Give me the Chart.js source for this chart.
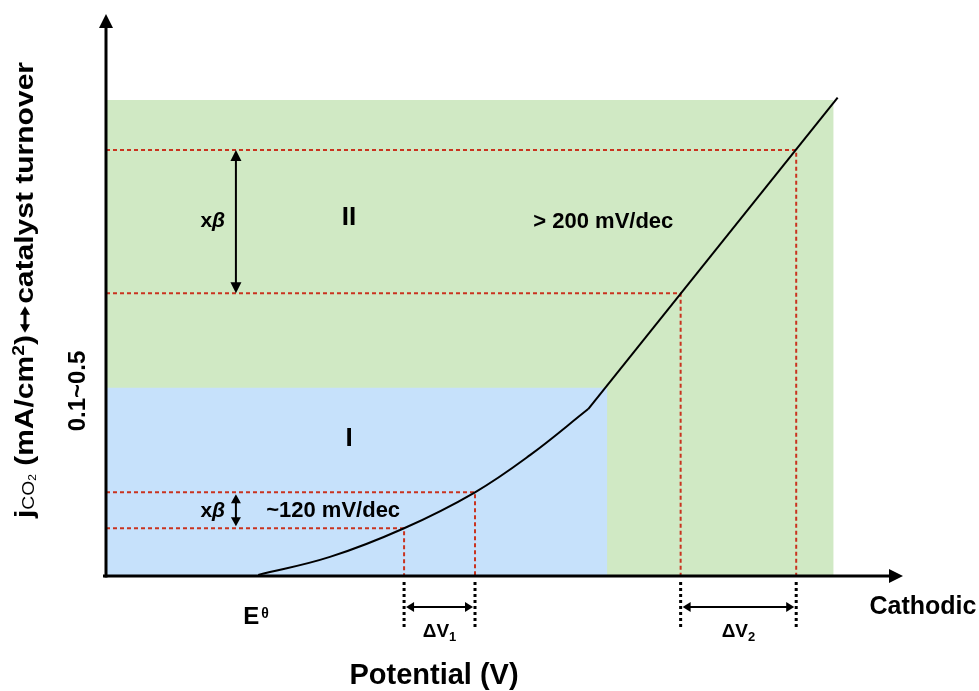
<!DOCTYPE html>
<html>
<head>
<meta charset="utf-8">
<script src="https://cdn.jsdelivr.net/npm/chart.js@4.4.1/dist/chart.umd.min.js"></script>
<style>
  html, body { margin: 0; padding: 0; background: #ffffff; }
  canvas { display: block; }
</style>
</head>
<body>
<canvas id="chart" width="979" height="691"></canvas>
<script>
// Potential runs left -> cathodic, current density bottom -> top (arbitrary schematic units)
const kineticPotential  = [19.1, 28.1, 37.4, 46.3, 53.2, 60.5];
const kineticCurrent    = [0.2, 3.4, 8.5, 14.9, 21.5, 29.7];
const turnoverPotential = [60.5, 91.8];
const turnoverCurrent   = [29.7, 85.1];

// Regime boxes: I (kinetic) and II (turnover-limited)
const regionNames  = ['I', 'II'];
const regionEdgeV  = [62.9, 91.3];
const regionEdgeJ  = [33.5, 84.7];
const regionColors = ['#c6e1fb', '#d0e9c4'];

// Read-out points: two current steps (xβ) in each regime and their potentials
const readoutV = [37.4, 46.3, 72.1, 86.6];
const readoutJ = [8.5, 14.9, 50.3, 75.8];

const slopeLabels = ['~120 mV/dec', '> 200 mV/dec'];
const deltaSubs   = ['1', '2'];
const stepLabel   = 'x';
const stepSymbol  = 'β';
const xAxisLabel  = 'Potential (V)';
const xEndLabel   = 'Cathodic';
const eqLabel     = 'E';
const eqSup       = 'θ';
const rangeLabel  = '0.1~0.5';

const FONT = '"Liberation Sans", Arial, Helvetica, sans-serif';
const RED = '#c9331f';

const pts = (xs, ys) => xs.map((x, i) => ({ x, y: ys[i] }));

const datasets = [];
// Curve: Tafel-like kinetic part, then straight turnover-limited part
datasets.push({
  data: pts(kineticPotential, kineticCurrent),
  borderColor: '#000', borderWidth: 2, pointRadius: 0,
  tension: 0.4, fill: false, order: 0
});
datasets.push({
  data: pts(turnoverPotential, turnoverCurrent),
  borderColor: '#000', borderWidth: 2, pointRadius: 0,
  tension: 0, fill: false, order: 0
});
// Red dashed guide lines from the axis to the curve and down to the potential axis
readoutV.forEach((v, i) => {
  datasets.push({
    data: [{ x: 0, y: readoutJ[i] }, { x: v, y: readoutJ[i] }, { x: v, y: 0 }],
    borderColor: RED, borderWidth: 2, borderDash: [4, 3], pointRadius: 0,
    tension: 0, fill: false, order: 1
  });
});
// Shaded regime boxes
regionNames.forEach((name, i) => {
  datasets.push({
    data: [{ x: 0, y: regionEdgeJ[i] }, { x: regionEdgeV[i], y: regionEdgeJ[i] }],
    borderColor: 'rgba(0,0,0,0)', borderWidth: 0, pointRadius: 0,
    backgroundColor: regionColors[i], fill: 'origin', tension: 0, order: 2 + i
  });
});

function head(ctx, x, y, dx, dy, len, half) {
  ctx.beginPath();
  ctx.moveTo(x, y);
  ctx.lineTo(x - dx * len - dy * half, y - dy * len + dx * half);
  ctx.lineTo(x - dx * len + dy * half, y - dy * len - dx * half);
  ctx.closePath();
  ctx.fill();
}

function doubleArrow(ctx, x1, y1, x2, y2, len, half, width) {
  const L = Math.hypot(x2 - x1, y2 - y1);
  const dx = (x2 - x1) / L, dy = (y2 - y1) / L;
  ctx.lineWidth = width;
  ctx.beginPath();
  ctx.moveTo(x1 + dx * (len - 1), y1 + dy * (len - 1));
  ctx.lineTo(x2 - dx * (len - 1), y2 - dy * (len - 1));
  ctx.stroke();
  head(ctx, x2, y2, dx, dy, len, half);
  head(ctx, x1, y1, -dx, -dy, len, half);
}

function label(ctx, str, x, y, font, align) {
  ctx.font = font;
  ctx.textAlign = align || 'center';
  ctx.textBaseline = 'middle';
  ctx.fillText(str, x, y);
}

// Draws a sequence of styled runs along one baseline; returns total width.
// A run with `arrow` draws a bold two-headed arrow of the given width instead of text.
function runs(ctx, list, x, y, draw) {
  let cx = x;
  ctx.textAlign = 'left';
  ctx.textBaseline = 'alphabetic';
  list.forEach(r => {
    if (r.arrow) {
      if (draw) doubleArrow(ctx, cx + 2, y - 8, cx + r.arrow - 2, y - 8, 7, 5, 3);
      cx += r.arrow;
      return;
    }
    ctx.font = r.font;
    if (draw) ctx.fillText(r.t, cx, y + (r.dy || 0));
    cx += ctx.measureText(r.t).width;
  });
  return cx - x;
}

const schematic = {
  id: 'schematic',
  afterDatasetsDraw(chart) {
    const ctx = chart.ctx;
    const xs = chart.scales.x, ys = chart.scales.y;
    const px = v => xs.getPixelForValue(v);
    const py = v => ys.getPixelForValue(v);
    const area = chart.chartArea;
    const x0 = px(0), y0 = py(0);

    ctx.save();
    ctx.fillStyle = '#000';
    ctx.strokeStyle = '#000';

    // Dotted extension lines below the potential axis
    ctx.lineWidth = 3;
    ctx.setLineDash([3, 3]);
    readoutV.forEach(v => {
      ctx.beginPath();
      ctx.moveTo(px(v), y0 + 6);
      ctx.lineTo(px(v), y0 + 53);
      ctx.stroke();
    });
    ctx.setLineDash([]);

    // ΔV arrows and labels
    [[0, 1], [2, 3]].forEach((pair, k) => {
      const a = px(readoutV[pair[0]]) + 2, b = px(readoutV[pair[1]]) - 2;
      doubleArrow(ctx, a, y0 + 31, b, y0 + 31, 8, 5, 2);
      const cx = (px(readoutV[pair[0]]) + px(readoutV[pair[1]])) / 2;
      const list = [
        { t: 'ΔV', font: 'bold 19px ' + FONT },
        { t: deltaSubs[k], font: 'bold 13px ' + FONT, dy: 4 }
      ];
      const w = runs(ctx, list, 0, 0, false);
      runs(ctx, list, cx - w / 2, y0 + 61, true);
    });

    // xβ arrows between the dashed levels
    const ax = px(16.3);
    doubleArrow(ctx, ax, py(readoutJ[3]), ax, py(readoutJ[2]), 11, 5.5, 2);
    doubleArrow(ctx, ax, py(readoutJ[1]) + 2, ax, py(readoutJ[0]) - 2, 9, 5, 2);
    [readoutJ[2] + (readoutJ[3] - readoutJ[2]) / 2 + 0.3, (readoutJ[0] + readoutJ[1]) / 2].forEach(j => {
      const list = [
        { t: stepLabel, font: 'bold 21px ' + FONT },
        { t: stepSymbol, font: 'italic bold 21px ' + FONT }
      ];
      const w = runs(ctx, list, 0, 0, false);
      runs(ctx, list, px(13.4) - w / 2, py(j) + 7, true);
    });

    // Regime names and slopes
    label(ctx, regionNames[1], px(30.5), py(63.7), 'bold 26px ' + FONT);
    label(ctx, regionNames[0], px(30.5), py(24.4), 'bold 26px ' + FONT);
    label(ctx, slopeLabels[1], px(62.4), py(63.0), 'bold 22px ' + FONT);
    label(ctx, slopeLabels[0], px(28.5), py(11.6), 'bold 22px ' + FONT);

    // Axes with arrow heads
    ctx.lineWidth = 3;
    ctx.beginPath();
    ctx.moveTo(x0 - 3, y0);
    ctx.lineTo(area.right - 13, y0);
    ctx.stroke();
    head(ctx, area.right, y0, 1, 0, 14, 7);
    ctx.beginPath();
    ctx.moveTo(x0, y0 + 1.5);
    ctx.lineTo(x0, area.top + 12);
    ctx.stroke();
    head(ctx, x0, area.top, 0, -1, 14, 7);

    // E^θ under the curve onset
    ctx.font = 'bold 24px ' + FONT;
    ctx.textAlign = 'left';
    ctx.textBaseline = 'alphabetic';
    const ex = px(kineticPotential[0]) - 15;
    ctx.fillText(eqLabel, ex, y0 + 48);
    const ew = ctx.measureText(eqLabel).width;
    ctx.font = 'bold 14px ' + FONT;
    ctx.fillText(eqSup, ex + ew + 2, y0 + 42);

    // Axis end label and title
    label(ctx, xEndLabel, area.right + 20, y0 + 31, 'bold 25px ' + FONT);
    label(ctx, xAxisLabel, 434, y0 + 100, 'bold 29px ' + FONT);

    // Vertical range note
    ctx.save();
    ctx.translate(78, 391);
    ctx.rotate(-Math.PI / 2);
    label(ctx, rangeLabel, 0, 0, 'bold 24px ' + FONT);
    ctx.restore();

    // Vertical axis title
    const title = [
      { t: 'j', font: 'bold 25px ' + FONT },
      { t: 'CO', font: '16px ' + FONT, dy: 1 },
      { t: '2', font: '10px ' + FONT, dy: 3 },
      { t: ' (mA/cm', font: 'bold 25px ' + FONT },
      { t: '2', font: 'bold 16px ' + FONT, dy: -9 },
      { t: ')', font: 'bold 25px ' + FONT },
      { arrow: 26 },
      { t: 'catalyst turnover', font: 'bold 25px ' + FONT }
    ];
    const tw = runs(ctx, title, 0, 0, false);
    const stretch = (518 - 62) / tw;
    ctx.save();
    ctx.translate(33, 518);
    ctx.rotate(-Math.PI / 2);
    ctx.scale(stretch, 1);
    runs(ctx, title, 0, 0, true);
    ctx.restore();

    ctx.restore();
  }
};

new Chart(document.getElementById('chart'), {
  type: 'line',
  data: { datasets },
  options: {
    responsive: false,
    animation: false,
    devicePixelRatio: 1,
    layout: { padding: { left: 106, right: 76, top: 14, bottom: 115 } },
    scales: {
      x: { type: 'linear', min: 0, max: 100, display: false },
      y: { type: 'linear', min: 0, max: 100, display: false }
    },
    plugins: { legend: { display: false }, tooltip: { enabled: false } }
  },
  plugins: [schematic]
});
</script>
</body>
</html>
